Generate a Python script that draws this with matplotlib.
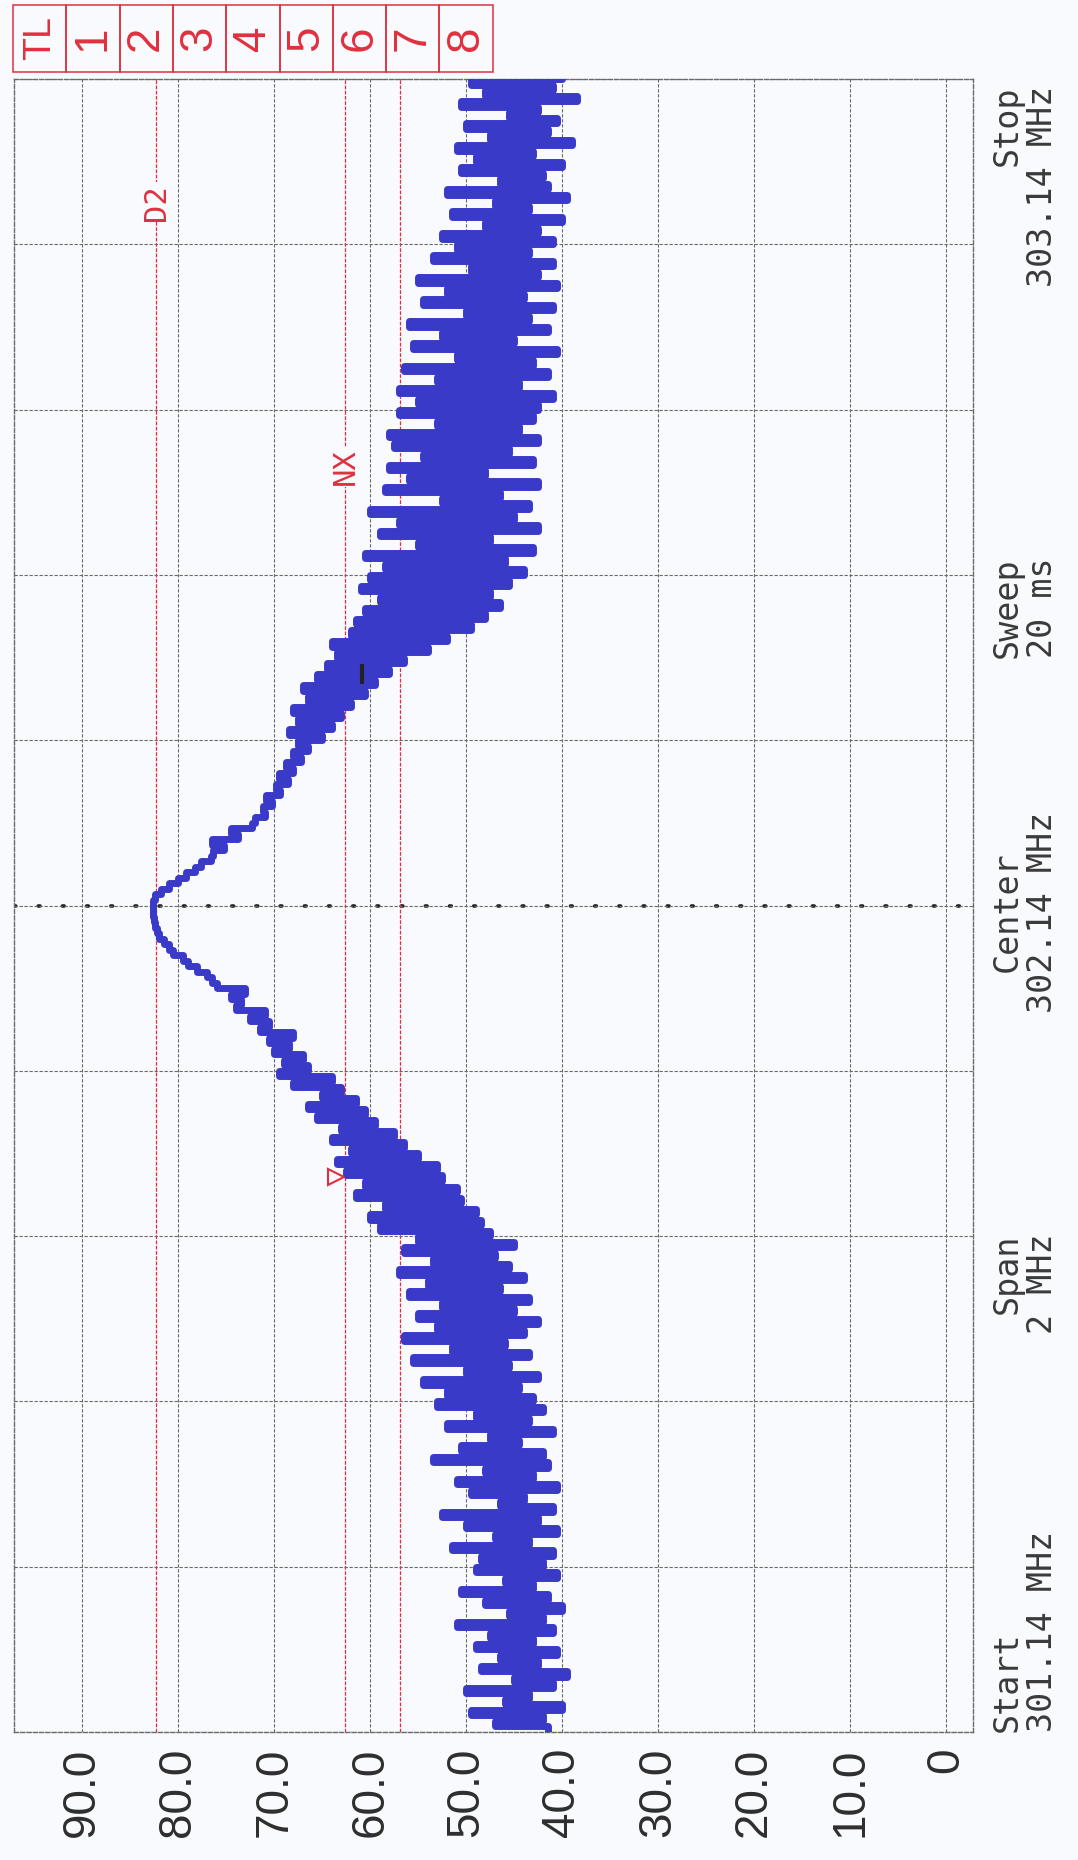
import numpy as np
import matplotlib
matplotlib.use("Agg")
import matplotlib.pyplot as plt
from matplotlib import font_manager
from matplotlib.patches import Rectangle

# sweep settings
f_start = 301.14
f_stop = 303.14
f_divs = 10

# amplitude scale (dB), drawn horizontally
amp_ticks = [90, 80, 70, 60, 50, 40, 30, 20, 10, 0]
amp_labels = ["90.0", "80.0", "70.0", "60.0", "50.0", "40.0", "30.0", "20.0", "10.0", "0"]
amp_left = 97.1
amp_right = -2.8

# display lines (dB)
d2_level = 82.3
nx_level = 62.6
line3_level = 56.9

# marker positions (dB, MHz)
v_marker = (63.6, 301.811)
black_mark = (60.8, 302.42)

box_labels = ["TL", "1", "2", "3", "4", "5", "6", "7", "8"]

info_texts = [
    ("Start\n301.14 MHz", 1732, "bottom", "left"),
    ("Span\n2 MHz", 1233, "top", "right"),
    ("Center\n302.14 MHz", 912, "center", "center"),
    ("Sweep\n20 ms", 658, "bottom", "left"),
    ("Stop\n303.14 MHz", 86, "top", "right"),
]

# trace readings, one list per frequency division (start -> stop)
div0 = [41.5, 47.0, 42.0, 49.5, 40.0, 46.0, 43.5, 50.0, 41.0, 45.0, 39.5, 48.5, 42.5, 46.5, 40.5,
        49.0, 43.0, 47.5, 41.0, 51.0, 42.0, 45.5, 40.0, 48.0, 41.5, 50.5, 43.0, 46.0, 40.5, 49.0]
div1 = [42.0, 48.5, 41.0, 51.5, 43.5, 47.0, 40.5, 50.0, 42.5, 52.5, 41.0, 46.5, 44.0, 49.5, 40.5,
        51.0, 43.0, 48.0, 41.5, 53.5, 42.0, 50.5, 44.5, 47.5, 41.0, 52.0, 43.5, 49.0, 42.0, 53.0]
div2 = [43.0, 52.0, 44.5, 54.5, 42.5, 50.0, 45.5, 55.5, 43.5, 51.5, 46.0, 56.5, 44.0, 53.0, 42.5,
        55.0, 45.0, 52.5, 43.5, 56.0, 46.5, 54.0, 44.0, 57.0, 45.5, 53.5, 47.0, 56.5, 45.0, 55.0]
div3 = [47.5, 59.0, 48.5, 60.0, 49.0, 58.5, 50.5, 61.5, 51.0, 60.5, 52.5, 62.5, 53.0, 63.5, 55.0,
        62.0, 56.5, 64.0, 57.5, 63.0, 59.5, 65.5, 60.5, 66.5, 61.5, 65.0, 63.0, 68.0, 64.0, 69.5]
div4 = [66.5, 69.0, 67.0, 70.0, 68.5, 70.5, 68.0, 71.5, 70.5, 72.5, 71.0, 74.0, 73.5, 74.5, 73.0,
        76.0, 76.5, 77.0, 78.0, 79.0, 79.5, 80.5, 81.0, 81.5, 82.0, 82.2, 82.4, 82.5, 82.6, 82.6]
div5 = [82.6, 82.4, 81.8, 81.0, 80.0, 79.2, 78.2, 77.6, 76.6, 76.4, 75.2, 76.5, 73.8, 74.5, 72.3,
        72.0, 71.0, 71.2, 70.2, 70.8, 69.4, 69.8, 68.6, 69.5, 68.0, 68.8, 67.2, 68.0, 66.5, 67.5]
div6 = [65.0, 68.5, 64.0, 67.5, 63.0, 68.0, 62.0, 66.5, 60.5, 67.0, 59.5, 65.5, 58.0, 64.5, 56.5,
        63.5, 54.0, 64.0, 52.0, 62.0, 49.5, 61.5, 48.0, 60.5, 46.5, 59.0, 47.5, 61.0, 45.5, 60.0]
div7 = [44.0, 58.5, 46.0, 60.5, 43.0, 55.0, 47.5, 59.0, 42.5, 57.0, 45.0, 60.0, 43.5, 52.5, 46.5,
        58.5, 42.5, 56.0, 48.0, 58.0, 43.0, 54.5, 45.5, 57.5, 42.5, 58.0, 44.5, 53.0, 43.0, 57.0]
div8 = [42.5, 55.0, 41.0, 57.0, 44.5, 53.0, 41.5, 56.5, 43.0, 51.0, 40.5, 55.5, 45.0, 52.5, 41.5,
        56.0, 43.5, 50.0, 41.0, 54.5, 44.0, 52.0, 40.5, 55.0, 42.5, 49.5, 41.0, 53.5, 43.5, 51.0]
div9 = [41.0, 52.5, 42.5, 48.0, 40.0, 51.5, 43.5, 47.0, 39.5, 52.0, 41.5, 46.5, 42.0, 50.5, 40.0,
        49.0, 43.0, 51.0, 39.0, 47.5, 41.5, 50.0, 40.5, 45.5, 42.5, 50.5, 38.5, 48.0, 41.0, 49.5, 40.0]

trace_db = div0 + div1 + div2 + div3 + div4 + div5 + div6 + div7 + div8 + div9
trace_freq = np.linspace(f_start, f_stop, len(trace_db))

installed = {f.name for f in font_manager.fontManager.ttflist}
if "Liberation Sans Narrow" in installed:
    label_font, label_size, box_size, tl_size = "Liberation Sans Narrow", 36, 38, 31
elif "Liberation Sans" in installed:
    label_font, label_size, box_size, tl_size = "Liberation Sans", 33, 33, 27
else:
    label_font, label_size, box_size, tl_size = "DejaVu Sans", 29, 30, 24
info_font = "DejaVu Sans Mono"

W, H = 1078, 1860
RED = "#e0303f"
GRID = "#6a6a6a"
BG = "#f9fafd"

fig = plt.figure(figsize=(W / 100, H / 100), dpi=100, facecolor=BG)
ax_l, ax_r, ax_t, ax_b = 14, 973, 79, 1732
ax = fig.add_axes([ax_l / W, 1 - ax_b / H, (ax_r - ax_l) / W, (ax_b - ax_t) / H])
ax.set_facecolor(BG)

ax.set_xlim(amp_left, amp_right)
ax.set_ylim(f_start, f_stop)

freq_grid = np.linspace(f_start, f_stop, f_divs + 1)
ax.set_yticks(freq_grid)
ax.set_yticklabels([])
ax.set_xticks(amp_ticks)
ax.set_xticklabels(amp_labels, rotation=90, fontsize=label_size, family=label_font,
                   color="#2e2e2e", va="top")
ax.tick_params(length=0, pad=11)
ax.grid(True, color=GRID, lw=0.8, ls=(0, (3, 1.5)))
for sp in ax.spines.values():
    sp.set_color(GRID)
    sp.set_linewidth(1.0)
    sp.set_linestyle((0, (3, 1.5)))

# center frequency dotted line
ax.axhline((f_start + f_stop) / 2, color="#222222", lw=2.6, ls=(0, (0.5, 6.2)),
           dash_capstyle="round", zorder=1)

# display lines
for lvl in (d2_level, nx_level, line3_level):
    ax.axvline(lvl, color=RED, lw=0.9, ls=(0, (3, 1.2)), zorder=1.5)

ax.plot(trace_db, trace_freq, color="#3a3ac8", lw=5.0, drawstyle="steps-pre",
        solid_joinstyle="round", solid_capstyle="round", zorder=3)

ax.text(d2_level, 302.991, "D2", rotation=90, color=RED, fontsize=22, family=info_font,
        ha="center", va="center", zorder=4,
        bbox=dict(fc=BG, ec="none", pad=1))
ax.text(nx_level, 302.671, "NX", rotation=90, color=RED, fontsize=22, family=info_font,
        ha="center", va="center", zorder=4,
        bbox=dict(fc=BG, ec="none", pad=1))
ax.plot(*v_marker, marker=">", ms=12, mfc="none", mec=RED, mew=1.5, zorder=4)
ax.plot(*black_mark, marker="|", ms=14, mew=3, color="#222222", zorder=4)

# red limit-line table at the top
cell_w = 53.3
box_x0, box_top, box_bot = 13, 5, 72
for i, lab in enumerate(box_labels):
    x0 = box_x0 + i * cell_w
    fig.add_artist(Rectangle((x0 / W, 1 - box_bot / H), cell_w / W, (box_bot - box_top) / H,
                             transform=fig.transFigure, fill=False, ec=RED, lw=1.1))
    fig.text((x0 + cell_w / 2) / W, 1 - (box_top + box_bot) / 2 / H, lab, rotation=90,
             color=RED, family=label_font, fontsize=tl_size if lab == "TL" else box_size,
             ha="center", va="center")

# sweep information on the right
for txt, ypx, va, malign in info_texts:
    fig.text(1025 / W, 1 - ypx / H, txt, rotation=90, fontsize=24, family=info_font,
             color="#3a3a3a", ha="center", va=va, multialignment=malign, linespacing=1.1)

fig.savefig("out.png", dpi=100, facecolor=BG)
